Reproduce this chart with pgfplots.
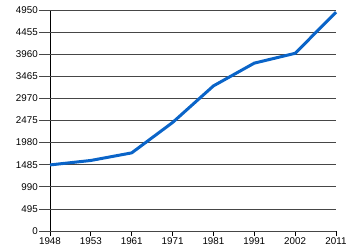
\documentclass[border=0pt]{standalone}
\usepackage{pgfplots}
\pgfplotsset{compat=1.18}
\usepackage{fontspec}
\setmainfont{Liberation Sans}
\definecolor{lineblue}{RGB}{10,100,200}
\definecolor{gridgray}{RGB}{70,70,70}
\begin{document}
\begin{tikzpicture}
\begin{axis}[
  scale only axis,
  width=286pt, height=221pt,
  xmin=0, xmax=7, ymin=0, ymax=4950,
  xtick={0,1,2,3,4,5,6,7},
  xticklabels={1948,1953,1961,1971,1981,1991,2002,2011},
  ytick=\empty,
  extra y ticks={0,495,990,1485,1980,2475,2970,3465,3960,4455,4950},
  extra y tick labels={0,495,990,1485,1980,2475,2970,3465,3960,4455,4950},
  extra y tick style={grid=major, major tick length=11pt, tick align=outside,
     tick style={gridgray, line width=0.8pt}},
  axis lines*=left,
  axis line style={black, line width=0.9pt},
  grid style={gridgray, line width=0.8pt},
  x tick style={black, line width=0.9pt},
  xtick align=outside,
  major tick length=5pt,
  xticklabel style={inner sep=1pt},
  yticklabel style={inner sep=1pt},
  tick label style={font=\fontsize{9.8}{11}\selectfont},
  /pgf/number format/assume math mode=true,
  clip=false,
]
\addplot[lineblue, line width=3pt, line join=round] coordinates {
 (0,1480) (1,1580) (2,1750) (3,2430) (4,3250) (5,3760) (6,3980) (7,4900)
};
\coordinate (bl) at (rel axis cs:0,0);
\end{axis}
\path[use as bounding box] (bl) ++(-50pt,-19pt) rectangle ++(350pt,250pt);
\end{tikzpicture}
\end{document}
